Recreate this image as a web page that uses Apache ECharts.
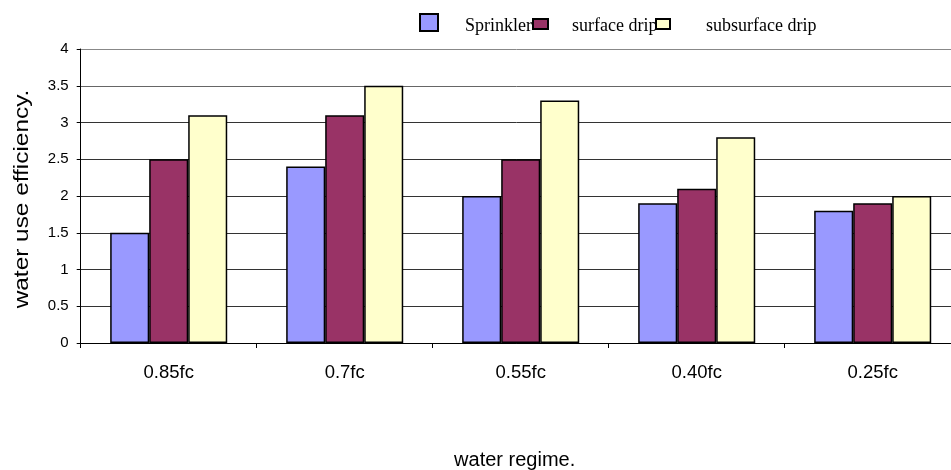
<!DOCTYPE html>
<html>
<head>
<meta charset="utf-8">
<script src="https://cdn.jsdelivr.net/npm/echarts@6/dist/echarts.min.js"></script>
<style>html,body{margin:0;padding:0;background:#fff}#c{width:951px;height:470px}</style>
</head>
<body>
<div id="c"></div>
<script>
var categories = ['0.85fc', '0.7fc', '0.55fc', '0.40fc', '0.25fc'];
var sprinkler = [1.5, 2.4, 2.0, 1.9, 1.8];
var surfaceDrip = [2.5, 3.1, 2.5, 2.1, 1.9];
var subsurfaceDrip = [3.1, 3.5, 3.3, 2.8, 2.0];
var seriesNames = ['Sprinkler', 'surface drip', 'subsurface drip'];
var xAxisTitle = 'water regime.';
var yAxisTitle = 'water use efficiency.';

var chart = echarts.init(document.getElementById('c'));
var serif = '"Liberation Serif", "Times New Roman", serif';
var sans = '"Liberation Sans", Arial, sans-serif';
// icon-only legend items
function iconLegend(name, left, top, w, h) {
  return {
    data: [name], left: left, top: top, itemWidth: w, itemHeight: h,
    selectedMode: false, padding: 0, icon: 'rect', itemGap: 0,
    formatter: function () { return ''; },
    textStyle: {fontSize: 1}
  };
}
// text-only legend items
function textLegend(name, left, top) {
  return {
    data: [name], left: left - 5, top: top, itemWidth: 0, itemHeight: 0,
    selectedMode: false, padding: 0, icon: 'rect',
    itemStyle: {color: 'transparent', borderColor: 'transparent', borderWidth: 0},
    textStyle: {fontFamily: serif, fontSize: 18, lineHeight: 18, color: '#000'}
  };
}
chart.setOption({
  animation: false,
  legend: [
    iconLegend(seriesNames[0], 419, 13, 18, 17),
    iconLegend(seriesNames[1], 532, 18, 15, 10),
    iconLegend(seriesNames[2], 655, 18, 14, 10),
    textLegend(seriesNames[0], 465, 17.5),
    textLegend(seriesNames[1], 572, 17.5),
    textLegend(seriesNames[2], 706, 17.5)
  ],
  graphic: [{
    type: 'text', x: 23, y: 199, rotation: Math.PI / 2, scaleX: 1.25,
    style: {text: yAxisTitle, fontFamily: sans, fontSize: 19.5, fill: '#000',
            align: 'center', verticalAlign: 'middle'}
  }],
  grid: {left: 80.7, top: 49, width: 880, height: 294, outerBoundsMode: 'none', containLabel: false},
  xAxis: {
    type: 'category', data: categories,
    name: xAxisTitle, nameLocation: 'middle', nameGap: 107,
    nameTextStyle: {fontFamily: sans, fontSize: 20, color: '#000', padding: [0, 12, 0, 0]},
    axisLine: {lineStyle: {color: '#000', width: 1}},
    axisTick: {show: true, length: 5, lineStyle: {color: '#000'}},
    axisLabel: {fontFamily: sans, fontSize: 18.5, color: '#000', margin: 20}
  },
  yAxis: {
    type: 'value', min: 0, max: 4, interval: 0.5,
    axisLine: {show: true, lineStyle: {color: '#000', width: 1}},
    axisTick: {show: true, length: 4, lineStyle: {color: '#000'}},
    axisLabel: {fontFamily: sans, fontSize: 15, color: '#000', margin: 12},
    splitLine: {lineStyle: {color: ['#333', '#333', '#333', '#333', '#333', '#333', '#333', '#666', '#888'], width: 1}}
  },
  series: [
    {name: seriesNames[0], type: 'bar', data: sprinkler, barGap: '0%', barCategoryGap: '33.5%',
     itemStyle: {color: '#9999FF', borderColor: '#000', borderWidth: 1.5}},
    {name: seriesNames[1], type: 'bar', data: surfaceDrip, barGap: '0%', barCategoryGap: '33.5%',
     itemStyle: {color: '#993366', borderColor: '#000', borderWidth: 1.5}},
    {name: seriesNames[2], type: 'bar', data: subsurfaceDrip, barGap: '0%', barCategoryGap: '33.5%',
     itemStyle: {color: '#FFFFCC', borderColor: '#000', borderWidth: 1.5}}
  ]
});
</script>
</body>
</html>
